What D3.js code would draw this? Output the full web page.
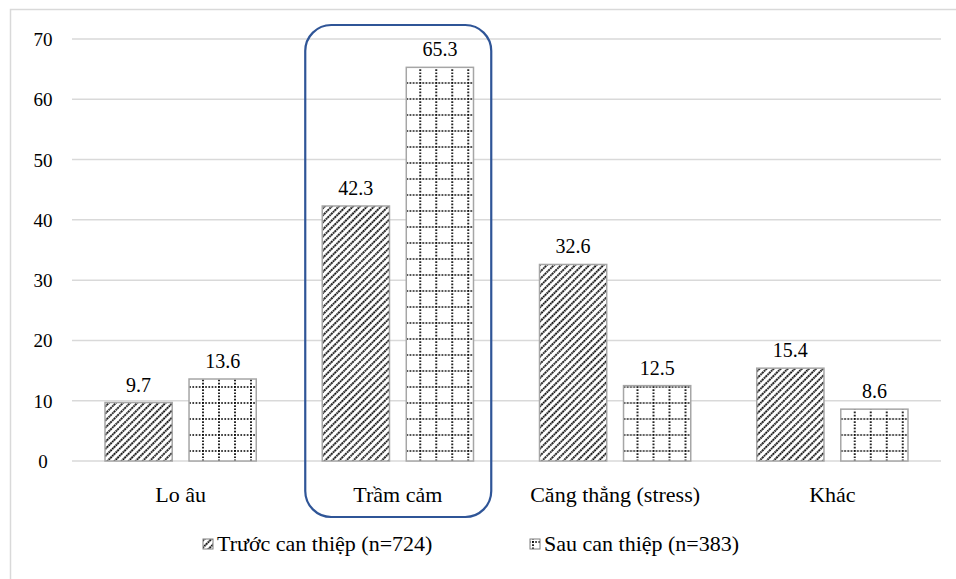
<!DOCTYPE html>
<html>
<head>
<meta charset="utf-8">
<script src="https://cdn.jsdelivr.net/npm/d3@7"></script>
<style>
body { margin: 0; background: #fff; }
.lbl { font-family: "Liberation Serif", "Times New Roman", Times, serif; fill: #000; }
</style>
</head>
<body>
<svg id="chart" width="956" height="579"></svg>
<script>
const categories = ["Lo âu", "Trầm cảm", "Căng thẳng (stress)", "Khác"];
const seriesNames = ["Trước can thiệp (n=724)", "Sau can thiệp (n=383)"];
const before = [9.7, 42.3, 32.6, 15.4];
const after = [13.6, 65.3, 12.5, 8.6];
const yTicks = [0, 10, 20, 30, 40, 50, 60, 70];

const MARGIN = {top: 39, left: 72, right: 15, bottom: 118};
const W = 956, H = 579;

const svg = d3.select("#chart");
const defs = svg.append("defs");

// diagonal hatch
const hatch = defs.append("pattern")
    .attr("id", "hatch")
    .attr("patternUnits", "userSpaceOnUse")
    .attr("width", 5).attr("height", 5)
    .attr("patternTransform", "rotate(45)");
hatch.append("rect").attr("width", 5).attr("height", 5).attr("fill", "#fff");
hatch.append("line")
    .attr("x1", 1).attr("y1", 0).attr("x2", 1).attr("y2", 5)
    .attr("stroke", "#000").attr("stroke-width", 1.9)
    .attr("stroke-dasharray", "1.8,0.7");

// dotted grid
const grid = defs.append("pattern")
    .attr("id", "grid")
    .attr("patternUnits", "userSpaceOnUse")
    .attr("width", 16).attr("height", 16)
    .attr("x", 2).attr("y", 2);
grid.append("rect").attr("width", 16).attr("height", 16).attr("fill", "#fff");
grid.append("line")
    .attr("x1", 0).attr("y1", 1).attr("x2", 16).attr("y2", 1)
    .attr("stroke", "#000").attr("stroke-width", 1.7).attr("stroke-dasharray", "1.7,1.5");
grid.append("line")
    .attr("x1", 1).attr("y1", 0).attr("x2", 1).attr("y2", 16)
    .attr("stroke", "#000").attr("stroke-width", 1.7).attr("stroke-dasharray", "1.7,1.5");

const fills = ["url(#hatch)", "url(#grid)"];

// outer frame
svg.append("rect")
    .attr("x", 10.5).attr("y", 9.5)
    .attr("width", W).attr("height", H)
    .attr("fill", "none").attr("stroke", "#d9d9d9").attr("stroke-width", 1.5);

const x = d3.scaleBand()
    .domain(categories)
    .range([MARGIN.left, W - MARGIN.right]);

const x1 = d3.scaleBand()
    .domain([0, 1])
    .range([33, x.bandwidth() - 33])
    .paddingInner(0.2);

const y = d3.scaleLinear()
    .domain([0, 70])
    .range([461, MARGIN.top]);

// gridlines
svg.append("g")
    .selectAll("line")
    .data(yTicks)
    .join("line")
    .attr("x1", MARGIN.left).attr("x2", W - MARGIN.right)
    .attr("y1", d => y(d)).attr("y2", d => y(d))
    .attr("stroke", "#d9d9d9").attr("stroke-width", 1.5);

// y axis labels
svg.append("g")
    .selectAll("text")
    .data(yTicks)
    .join("text")
    .attr("class", "lbl")
    .attr("x", MARGIN.left - 29)
    .attr("y", d => y(d) + 7)
    .attr("text-anchor", "middle")
    .attr("font-size", 19)
    .text(d => d);

// bars
const groups = svg.append("g")
    .selectAll("g")
    .data(categories)
    .join("g")
    .attr("transform", d => `translate(${x(d)},0)`);

const barData = (d, i) => [before[i], after[i]].map((v, s) => ({s: s, v: v}));

groups.selectAll("rect")
    .data(barData)
    .join("rect")
    .attr("x", d => x1(d.s))
    .attr("y", d => y(d.v))
    .attr("width", x1.bandwidth())
    .attr("height", d => y(0) - y(d.v))
    .attr("fill", d => fills[d.s])
    .attr("stroke", "#a6a6a6").attr("stroke-width", 1.5);

groups.selectAll("text.val")
    .data(barData)
    .join("text")
    .attr("class", "val lbl")
    .attr("x", d => x1(d.s) + x1.bandwidth() / 2)
    .attr("y", d => y(d.v) - 11)
    .attr("text-anchor", "middle")
    .attr("font-size", 20)
    .text(d => d.v.toFixed(1));

// category labels
svg.append("g")
    .selectAll("text")
    .data(categories)
    .join("text")
    .attr("class", "lbl")
    .attr("x", d => x(d) + x.bandwidth() / 2)
    .attr("y", y(0) + 41)
    .attr("text-anchor", "middle")
    .attr("font-size", 22)
    .text(d => d);

// highlight box around "Trầm cảm"
svg.append("rect")
    .attr("x", x("Trầm cảm") + 16)
    .attr("y", 25)
    .attr("width", 186)
    .attr("height", 492)
    .attr("rx", 26).attr("ry", 26)
    .attr("fill", "none")
    .attr("stroke", "#2f5597").attr("stroke-width", 2.2);

// legend
const legendX = [203, 530];
const legend = svg.append("g")
    .selectAll("g")
    .data(seriesNames)
    .join("g")
    .attr("transform", (d, i) => `translate(${legendX[i]},539)`);

legend.append("rect")
    .attr("x", 0).attr("y", 0)
    .attr("width", 10).attr("height", 10)
    .attr("fill", (d, i) => i === 0 ? "url(#hatch)" : "url(#grid)")
    .attr("stroke", "#7f7f7f").attr("stroke-width", 1);

legend.append("text")
    .attr("class", "lbl")
    .attr("x", 14).attr("y", 12)
    .attr("font-size", 22)
    .text(d => d);
</script>
</body>
</html>
